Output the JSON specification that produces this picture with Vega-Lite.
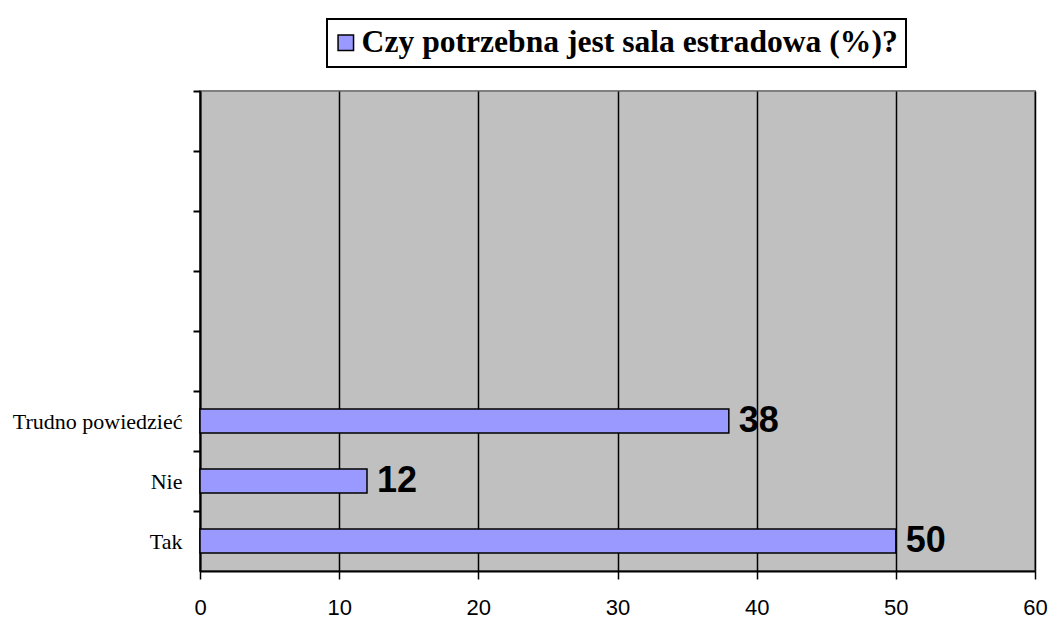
{
  "$schema": "https://vega.github.io/schema/vega-lite/v6.json",
  "width": 835,
  "height": 480,
  "autosize": "none",
  "padding": {"left": 200, "top": 91, "right": 17, "bottom": 48},
  "background": "white",
  "config": {
    "view": {"fill": "#C0C0C0", "stroke": "#808080", "strokeWidth": 2}
  },
  "data": {
    "values": [
      {"cat": "Tak", "v": 50, "series": "Czy potrzebna jest sala estradowa (%)?"},
      {"cat": "Nie", "v": 12, "series": "Czy potrzebna jest sala estradowa (%)?"},
      {"cat": "Trudno powiedzieć", "v": 38, "series": "Czy potrzebna jest sala estradowa (%)?"}
    ]
  },
  "encoding": {
    "y": {
      "field": "cat",
      "type": "nominal",
      "title": null,
      "scale": {
        "domain": ["_1", "_2", "_3", "_4", "_5", "Trudno powiedzieć", "Nie", "Tak"],
        "paddingInner": 0.6,
        "paddingOuter": 0.3
      },
      "axis": {
        "labelExpr": "indexof(datum.label, '_') == 0 ? '' : datum.label",
        "tickOffset": -30,
        "labelOffset": 30,
        "grid": false,
        "domainColor": "black",
        "domainWidth": 2,
        "tickColor": "black",
        "tickWidth": 2,
        "tickSize": 7,
        "labelFont": "Liberation Serif",
        "labelFontSize": 22,
        "labelColor": "black",
        "labelPadding": 11
      }
    },
    "x": {
      "field": "v",
      "type": "quantitative",
      "title": null,
      "scale": {"domain": [0, 60], "nice": false},
      "axis": {
        "values": [0, 10, 20, 30, 40, 50, 60],
        "grid": true,
        "gridColor": "black",
        "gridWidth": 1.5,
        "gridOpacity": 1,
        "domainColor": "black",
        "domainWidth": 2,
        "tickColor": "black",
        "tickWidth": 1.5,
        "tickSize": 8,
        "labelFlush": false,
        "labelFont": "Liberation Sans",
        "labelFontSize": 22,
        "labelColor": "black",
        "labelPadding": 18
      }
    }
  },
  "layer": [
    {
      "mark": {"type": "bar", "stroke": "black", "strokeWidth": 1.5},
      "encoding": {
        "color": {
          "field": "series",
          "type": "nominal",
          "scale": {"range": ["#9999FF"]},
          "legend": {
            "title": null,
            "orient": "none",
            "legendX": 127,
            "legendY": -72,
            "strokeColor": "black",
            "fillColor": "white",
            "padding": 8,
            "symbolType": "square",
            "symbolSize": 240,
            "symbolOffset": -5,
            "symbolStrokeColor": "black",
            "symbolStrokeWidth": 1.5,
            "symbolFillColor": "#9999FF",
            "labelFont": "Liberation Serif",
            "labelFontWeight": "bold",
            "labelFontSize": 31.6,
            "labelColor": "black",
            "labelOffset": 0,
            "labelLimit": 800,
            "encode": {"legend": {"update": {"strokeWidth": {"value": 2}}}}
          }
        }
      }
    },
    {
      "mark": {
        "type": "text",
        "align": "left",
        "baseline": "middle",
        "dx": 10,
        "font": "Liberation Sans",
        "fontWeight": "bold",
        "fontSize": 36,
        "color": "black"
      },
      "encoding": {"text": {"field": "v", "type": "quantitative"}}
    }
  ]
}
